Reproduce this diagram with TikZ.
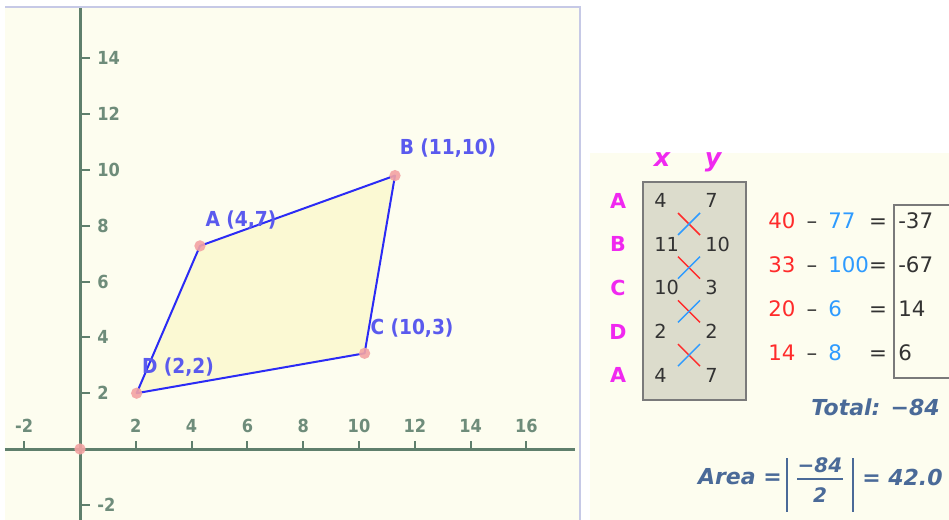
\documentclass[tikz,border=0pt]{standalone}
\usepackage{fontspec}
\setmainfont{DejaVu Sans}
\newfontfamily\condfont{DejaVu Sans Condensed}
\usepackage{tikz}
\usetikzlibrary{positioning}
\usetikzlibrary{calc}

\definecolor{paper}{HTML}{FDFDEF}
\definecolor{frame}{HTML}{C6C9E6}
\definecolor{axiscol}{HTML}{5F7F6C}
\definecolor{tickcol}{HTML}{6E8C7A}
\definecolor{polyfill}{HTML}{FBF9D3}
\definecolor{polyline}{HTML}{2B2BF5}
\definecolor{labelblue}{HTML}{5A5AEE}
\definecolor{dotpink}{HTML}{F4A3A3}
\definecolor{letter}{HTML}{F028F0}
\definecolor{tablefill}{HTML}{DCDCCC}
\definecolor{boxline}{HTML}{7A7A7A}
\definecolor{numcol}{HTML}{333333}
\definecolor{prodred}{HTML}{FF2B2B}
\definecolor{prodblue}{HTML}{2E9BFF}
\definecolor{sumcol}{HTML}{4A6A98}

\begin{document}
\begin{tikzpicture}[x=0.75pt, y=-0.75pt,
    axisline/.style={draw=axiscol, line width=2.25pt},
    tickmark/.style={draw=axiscol, line width=1.5pt},
    axislabel/.style={font=\condfont\bfseries\fontsize{13.5}{15}\selectfont, text=tickcol, inner sep=0pt},
    vertex/.style={circle, fill=dotpink, opacity=0.9, inner sep=0pt, minimum size=8.5pt},
    ptlabel/.style={font=\condfont\bfseries\fontsize{15.5}{18}\selectfont, text=labelblue, inner sep=0pt},
    rowletter/.style={font=\bfseries\fontsize{15.5}{18}\selectfont, text=letter, inner sep=0pt},
    head/.style={font=\bfseries\itshape\fontsize{19}{22}\selectfont, text=letter, inner sep=0pt},
    tabnum/.style={font=\fontsize{14.5}{16}\selectfont, text=numcol, inner sep=0pt},
    calcnum/.style={font=\fontsize{16}{19}\selectfont, text=numcol, inner sep=0pt, anchor=base west},
    sumtext/.style={font=\bfseries\itshape\fontsize{16.5}{19}\selectfont, text=sumcol, inner sep=0pt},
    fracnum/.style={font=\bfseries\itshape\fontsize{15}{18}\selectfont, text=sumcol, inner sep=0pt}]

        \useasboundingbox (0,0) rectangle (949,520);
        \fill[white] (0,0) rectangle (949,520);

        % Draw the graph panel and the table panel
        \fill[paper] (5,7) rectangle (580,520);
        \draw[frame, line width=1.5pt] (5,7) -- (580,7) -- (580,520);
        \fill[paper] (590,153) rectangle (949,520);

        % Graph in axis units
        \begin{scope}[shift={(80,449)}, x=20.925pt, y=20.925pt]
          % Draw the axes
          \draw[axisline] (-2.69,0) -- (17.74,0);
          \draw[axisline] (0,-2.6) -- (0,15.8);

          % Ticks and labels on both axes
          \foreach \t in {-2,2,4,...,16}
          {
            \draw[tickmark] (\t,0) -- (\t,0.3);
            \node[axislabel] (xl\t) at (\t,0.82) {\t};
          }
          \foreach \t in {-2,2,4,...,14}
          {
            \draw[tickmark] (0,\t) -- (0.36,\t);
            \node[axislabel, anchor=west] (yl\t) at (0.61,\t) {\t};
          }

          % Corners of the quadrilateral
          \coordinate (A) at (4.3,7.28);
          \coordinate (B) at (11.29,9.8);
          \coordinate (C) at (10.2,3.43);
          \coordinate (D) at (2.03,2.0);

          \filldraw[fill=polyfill, draw=polyline, line width=1.5pt, line join=round] (D) -- (A) -- (B) -- (C) -- cycle;

          \node[vertex] (origin) at (0,0) {};
          \foreach \p in {A,B,C,D}
          {
            \node[vertex] (v\p) at (\p) {};
          }

          \node[ptlabel] (labA) at (5.77,8.22) {A (4,7)};
          \node[ptlabel] (labB) at (13.19,10.80) {B (11,10)};
          \node[ptlabel] (labC) at (11.9,4.35) {C (10,3)};
          \node[ptlabel] (labD) at (3.51,2.95) {D (2,2)};
        \end{scope}

        % Draw the coordinate table
        \draw[boxline, fill=tablefill, line width=1.5pt] (643,182) rectangle (746,400);

        \begin{scope}
          \clip (590,153) rectangle (949,520);
          \node[head, anchor=base] (hx) at (662,167) {x};
          \node[head, anchor=base] (hy) at (713,167) {y};
        \end{scope}

        \foreach \name/\xv/\yv [count=\i from 0] in {A/4/7, B/11/10, C/10/3, D/2/2, A/4/7}
        {
          \pgfmathsetmacro\yy{200.5+43.7*\i}
          \node[rowletter] (L\i) at (618,\yy) {\name};
          \node[tabnum, anchor=west] (X\i) at (654,\yy) {\xv};
          \node[tabnum, anchor=west] (Y\i) at (705,\yy) {\yv};
        }

        % Crosses between the rows
        \foreach \i in {0,...,3}
        {
          \pgfmathsetmacro\cy{224+43.7*\i}
          \draw[prodred, line width=1.1pt] (678,\cy-11) -- (700,\cy+11);
          \draw[prodblue, line width=1.1pt] (678,\cy+11) -- (700,\cy-11);
        }

        % Products and differences
        \foreach \a/\b/\r [count=\i from 0] in {40/77/-37, 33/100/-67, 20/6/14, 14/8/6}
        {
          \pgfmathsetmacro\yy{228.8+44*\i}
          \node[calcnum, text=prodred] (P\i) at (768,\yy) {\a};
          \node[calcnum, anchor=base] (M\i) at (812,\yy) {\textendash};
          \node[calcnum, text=prodblue] (Q\i) at (828,\yy) {\b};
          \node[calcnum, anchor=base] (E\i) at (878,\yy) {=};
          \node[calcnum] (R\i) at (898,\yy) {\r};
        }
        \draw[boxline, line width=1.5pt] (949,205) -- (894,205) -- (894,378) -- (949,378);

        % Total and area
        \node[sumtext, anchor=east] (total) at (940,407) {Total: −84};
        \node[sumtext, anchor=east] (area) at (782,477) {Area =};
        \node[fracnum] (fnum) at (820,465) {−84};
        \node[fracnum] (fden) at (820,495) {2};
        \draw[sumcol, line width=1.5pt] (797,479) -- (843,479);
        \draw[sumcol, line width=1.5pt] (787,458) -- (787,512);
        \draw[sumcol, line width=1.5pt] (853,458) -- (853,512);
        \node[sumtext, anchor=west] (result) at (862,477) {= 42.0};
\end{tikzpicture}
\end{document}
